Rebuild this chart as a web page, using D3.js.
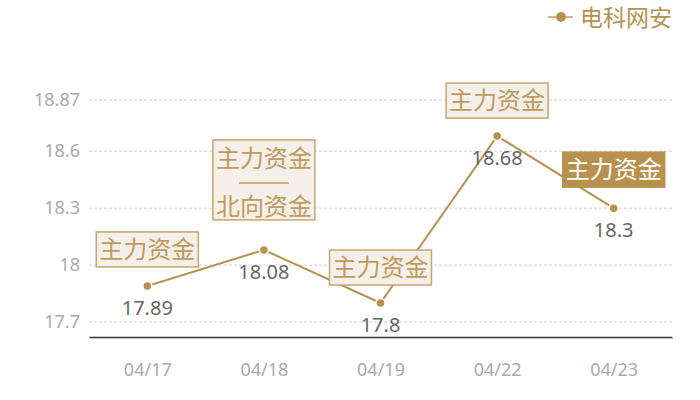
<!DOCTYPE html>
<html>
<head>
<meta charset="utf-8">
<script src="https://cdn.jsdelivr.net/npm/d3@7"></script>
<style>
  body { margin: 0; background: #fff; }
  svg { display: block; }
</style>
</head>
<body>
<div id="chart"></div>
<script>
// chart data
var dates = ["04/17", "04/18", "04/19", "04/22", "04/23"];
var prices = [17.89, 18.08, 17.8, 18.68, 18.3];
var flags = [["主力资金"], ["主力资金", "北向资金"], ["主力资金"], ["主力资金"], ["主力资金"]];
var yTicks = [17.7, 18, 18.3, 18.6, 18.87];
var seriesName = "电科网安";

var totWidth = 700, totHeight = 400;
var gold = "#b8914f";

var svg = d3.select("#chart").append("svg")
  .attr("width", totWidth)
  .attr("height", totHeight);

var x = d3.scalePoint()
  .domain(dates)
  .range([89, 672])
  .padding(0.5);

var y = d3.scaleLinear()
  .domain([17.621, 18.87])
  .range([337, 100]);

var numFont = "'Noto Sans', 'DejaVu Sans', sans-serif";
var cjkFont = "'Noto Sans CJK SC', sans-serif";

// grid lines
svg.append("g")
  .selectAll("line")
  .data(yTicks)
  .enter().append("line")
    .attr("x1", 89).attr("x2", 672)
    .attr("y1", function(d) { return y(d); })
    .attr("y2", function(d) { return y(d); })
    .attr("stroke", "#cfcfcf")
    .attr("stroke-dasharray", "3,2");

// y labels
var yAxis = svg.append("g")
  .attr("transform", "translate(89,0)")
  .call(d3.axisLeft(y).tickValues(yTicks).tickSize(0).tickPadding(9).tickFormat(function(d) { return d; }));
yAxis.select(".domain").remove();
yAxis.selectAll("text")
  .attr("fill", "#aaaaaa")
  .style("font-family", numFont)
  .style("font-size", "18px");

// x axis
var xAxis = svg.append("g")
  .attr("transform", "translate(0,337)")
  .call(d3.axisBottom(x).tickSize(0).tickPadding(26).tickSizeOuter(0));
xAxis.select(".domain").attr("stroke", "#333").attr("stroke-width", 1.5);
xAxis.selectAll("text")
  .attr("fill", "#aaaaaa")
  .style("font-family", numFont)
  .style("font-size", "18px");

var pts = dates.map(function(d, i) { return {date: d, value: prices[i], flag: flags[i]}; });

// the line
var line = d3.line()
  .x(function(d) { return x(d.date); })
  .y(function(d) { return y(d.value); });

svg.append("path")
  .datum(pts)
  .attr("fill", "none")
  .attr("stroke", gold)
  .attr("stroke-width", 2)
  .attr("d", line);

svg.selectAll(".pt")
  .data(pts)
  .enter().append("circle")
    .attr("class", "pt")
    .attr("cx", function(d) { return x(d.date); })
    .attr("cy", function(d) { return y(d.value); })
    .attr("r", 4.5)
    .attr("fill", gold)
    .attr("stroke", "#fff")
    .attr("stroke-width", 1.5);

// value labels
svg.selectAll(".val")
  .data(pts)
  .enter().append("text")
    .attr("class", "val")
    .attr("x", function(d) { return x(d.date); })
    .attr("y", function(d) { return y(d.value) + 29; })
    .attr("text-anchor", "middle")
    .attr("fill", "#666")
    .style("font-family", numFont)
    .style("font-size", "20px")
    .text(function(d) { return d.value; });

// flag boxes above the points
var gaps = [19, 30, 18, 18, 21];
var boxW = 102, lineH = 35;

pts.forEach(function(d, i) {
  var filled = i === pts.length - 1;
  var n = d.flag.length;
  var h = n === 1 ? lineH : 80;
  var cx = x(d.date);
  var bottom = y(d.value) - gaps[i];
  var top = bottom - h;
  var g = svg.append("g");
  g.append("rect")
    .attr("x", cx - boxW / 2)
    .attr("y", top)
    .attr("width", boxW)
    .attr("height", h)
    .attr("fill", filled ? gold : "#f4efe9")
    .attr("stroke", filled ? gold : "#c9a46d")
    .attr("stroke-width", 1.5);
  var txtColor = filled ? "#fff" : "#bf9a5c";
  if (n === 1) {
    g.append("text")
      .attr("x", cx).attr("y", top + h / 2 + 8.5)
      .attr("text-anchor", "middle")
      .attr("fill", txtColor)
      .style("font-family", cjkFont)
      .style("font-size", "24px")
      .text(d.flag[0]);
  } else {
    g.append("text")
      .attr("x", cx).attr("y", top + 19 + 8.5)
      .attr("text-anchor", "middle")
      .attr("fill", txtColor)
      .style("font-family", cjkFont)
      .style("font-size", "24px")
      .text(d.flag[0]);
    g.append("line")
      .attr("x1", cx - 25).attr("x2", cx + 25)
      .attr("y1", top + 43).attr("y2", top + 43)
      .attr("stroke", txtColor)
      .attr("stroke-width", 1.5);
    g.append("text")
      .attr("x", cx).attr("y", top + 67 + 8.5)
      .attr("text-anchor", "middle")
      .attr("fill", txtColor)
      .style("font-family", cjkFont)
      .style("font-size", "24px")
      .text(d.flag[1]);
  }
});

// legend
var legend = svg.append("g").attr("transform", "translate(548,17)");
legend.append("line")
  .attr("x1", 0).attr("x2", 25)
  .attr("stroke", "#d2b78a")
  .attr("stroke-width", 2);
legend.append("circle")
  .attr("cx", 13).attr("r", 5)
  .attr("fill", gold);
legend.append("text")
  .attr("x", 32).attr("y", 9)
  .attr("fill", gold)
  .style("font-family", cjkFont)
  .style("font-size", "23px")
  .text(seriesName);
</script>
</body>
</html>
